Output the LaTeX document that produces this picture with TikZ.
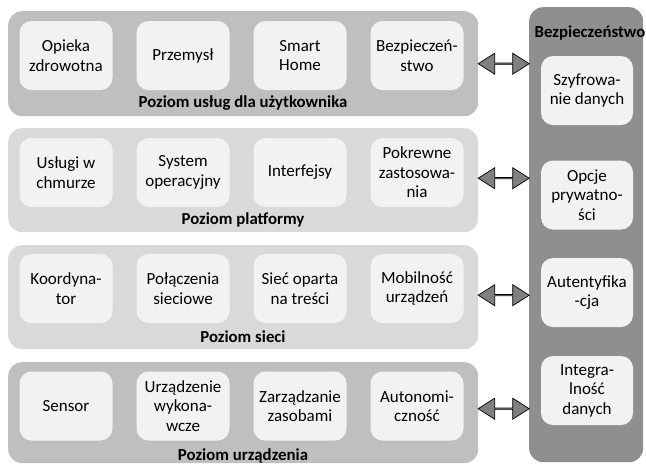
\documentclass[tikz,border=0pt]{standalone}
\usepackage{fontspec}
\setmainfont{Carlito}
\usetikzlibrary{shapes.arrows,calc}
\definecolor{bandA}{HTML}{BFBFBF}
\definecolor{bandB}{HTML}{D9D9D9}
\definecolor{panelC}{HTML}{8F8F8F}
\definecolor{boxC}{HTML}{F2F2F2}
\definecolor{arrC}{HTML}{808080}
\tikzset{
  band/.style={fill=#1, draw=none, rounded corners=14pt, anchor=north west, inner sep=0pt},
  itembox/.style={fill=boxC, draw=none, rounded corners=12pt, minimum width=93pt, minimum height=69pt, inner sep=0pt, align=center, font=\fontsize{17}{19.5}\selectfont},
  bandlabel/.style={font=\fontsize{16.8}{19}\selectfont\bfseries, inner sep=0pt},
  dblarrow/.style={double arrow, draw=black, fill=arrC, line width=0.7pt, minimum height=51pt, minimum width=21pt, double arrow head extend=5pt, double arrow tip angle=65, inner sep=0pt}
}
\begin{document}
\begin{tikzpicture}[x=1pt,y=-1pt]
\useasboundingbox (0,0) rectangle (646,467);
% bands
\node[band=bandA, minimum width=470pt, minimum height=105pt] (b1) at (8,11) {};
\node[band=bandB, minimum width=470pt, minimum height=104pt] (b2) at (8,128) {};
\node[band=bandB, minimum width=470pt, minimum height=104pt] (b3) at (8,245) {};
\node[band=bandA, minimum width=470pt, minimum height=101pt] (b4) at (8,362) {};
% security panel
\node[band=panelC, minimum width=114pt, minimum height=455pt] (sec) at (529,7) {};
\node[bandlabel] (sect) at (590,33) {Bezpieczeństwo};
% band 1
\node[itembox] (a1) at (66,55.5) {Opieka\\zdrowotna};
\node[itembox] (a2) at (183,55.5) {Przemysł};
\node[itembox] (a3) at (300,55.5) {Smart\\Home};
\node[itembox] (a4) at (417,55.5) {Bezpieczeń-\\stwo};
\node[bandlabel] (l1) at (243,103) {Poziom usług dla użytkownika};
% band 2
\node[itembox] (p1) at (66,172.5) {Usługi w\\chmurze};
\node[itembox] (p2) at (183,172.5) {System\\operacyjny};
\node[itembox] (p3) at (300,172.5) {Interfejsy};
\node[itembox] (p4) at (417,172.5) {Pokrewne\\zastosowa-\\nia};
\node[bandlabel] (l2) at (243,220) {Poziom platformy};
% band 3
\node[itembox] (s1) at (66,288.5) {Koordyna-\\tor};
\node[itembox] (s2) at (183,288.5) {Połączenia\\sieciowe};
\node[itembox] (s3) at (300,288.5) {Sieć oparta\\na treści};
\node[itembox] (s4) at (417,288.5) {Mobilność\\urządzeń};
\node[bandlabel] (l3) at (243,337) {Poziom sieci};
% band 4
\node[itembox] (d1) at (66,406) {Sensor};
\node[itembox] (d2) at (183,406) {Urządzenie\\wykona-\\wcze};
\node[itembox] (d3) at (300,406) {Zarządzanie\\zasobami};
\node[itembox] (d4) at (417,406) {Autonomi-\\czność};
\node[bandlabel] (l4) at (243,456) {Poziom urządzenia};
% security items
\node[itembox, minimum width=92pt] (r1) at (587,90.5) {Szyfrowa-\\nie danych};
\node[itembox, minimum width=92pt] (r2) at (587,195) {Opcje\\prywatno-\\ści};
\node[itembox, minimum width=92pt] (r3) at (587,292.5) {Autentyfika\\-cja};
\node[itembox, minimum width=92pt] (r4) at (587,390.5) {Integra-\\lność\\danych};
% arrows
\node[dblarrow] (x1) at ($(b1.east)!0.5!(b1.east -| sec.west)$) {};
\node[dblarrow] (x2) at ($(b2.east)!0.5!(b2.east -| sec.west)+(0,-2)$) {};
\node[dblarrow] (x3) at ($(b3.east)!0.5!(b3.east -| sec.west)+(0,-2)$) {};
\node[dblarrow] (x4) at ($(b4.east)!0.5!(b4.east -| sec.west)+(0,-4)$) {};
\end{tikzpicture}
\end{document}
